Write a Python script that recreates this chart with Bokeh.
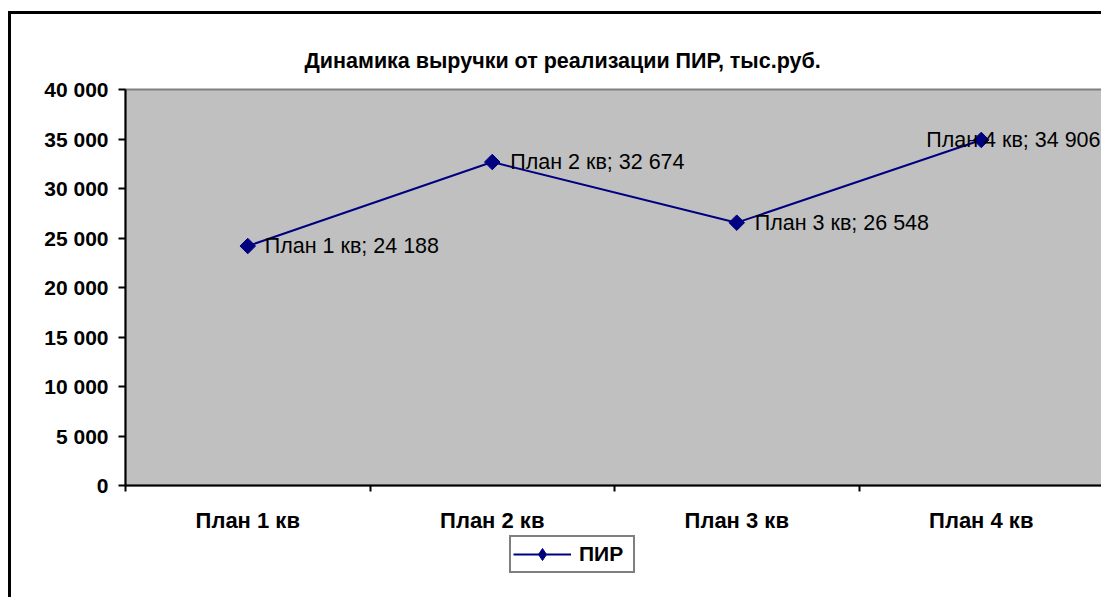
from bokeh.plotting import figure
from bokeh.models import (ColumnDataSource, Range1d, FixedTicker, CustomJSTickFormatter,
                          Legend, LegendItem, LabelSet)
from bokeh.layouts import column
from bokeh.core.properties import value
from bokeh.embed import file_html
from bokeh.resources import INLINE
import math

# ---- data ----
categories = ["План 1 кв", "План 2 кв", "План 3 кв", "План 4 кв"]
values = [24188, 32674, 26548, 34906]
value_labels = ["24 188", "32 674", "26 548", "34 906"]
y_ticks = [0, 5000, 10000, 15000, 20000, 25000, 30000, 35000, 40000]
series_name = "ПИР"
title_text = "Динамика выручки от реализации ПИР, тыс.руб."

FONT = "Liberation Sans"
NAVY = "#000080"

xs = [i + 0.5 for i in range(len(categories))]
labels = [f"{c}; {v}" for c, v in zip(categories, value_labels)]
label_dx = [17, 18, 18, -55]

src = ColumnDataSource(dict(x=xs, y=values, lab=labels, dx=label_dx))

p = figure(output_backend="svg", toolbar_location=None,
           x_range=Range1d(0, len(categories)), y_range=Range1d(0, 40000),
           frame_width=975, frame_height=393,
           min_border_left=114, min_border_top=75, min_border_right=1, min_border_bottom=53)
p.margin = (11, 0, 0, 8)
p.styles = {"border-left": "3px solid black", "border-top": "3px solid black"}

p.background_fill_color = "#C0C0C0"
p.border_fill_color = "white"
p.outline_line_color = "#808080"
p.outline_line_width = 2
p.xgrid.visible = False
p.ygrid.visible = False

p.title.text = title_text
p.title.text_font = FONT
p.title.text_font_size = "21.5px"
p.title.text_font_style = "bold"
p.title.text_color = "black"
p.title.align = "left"
p.title.offset = 179
p.title.standoff = 33

# y axis
ya = p.yaxis[0]
ya.ticker = FixedTicker(ticks=y_ticks, minor_ticks=[])
ya.formatter = CustomJSTickFormatter(code="return Math.round(tick).toString().replace(/\\B(?=(\\d{3})+(?!\\d))/g, ' ')")
ya.axis_line_color = "black"
ya.axis_line_width = 2
ya.major_tick_in = 0
ya.major_tick_out = 7
ya.major_tick_line_width = 2
ya.major_label_standoff = 10
ya.major_label_text_font = FONT
ya.major_label_text_font_size = "21px"
ya.major_label_text_font_style = "bold"
ya.major_label_text_color = "black"

# x axis
xa = p.xaxis[0]
xa.ticker = FixedTicker(ticks=xs, minor_ticks=list(range(len(categories) + 1)))
xa.formatter = CustomJSTickFormatter(args=dict(cats=categories),
                                     code="return cats[Math.floor(tick)]")
xa.axis_line_color = "black"
xa.axis_line_width = 2
xa.major_tick_in = 0
xa.major_tick_out = 0
xa.minor_tick_in = 0
xa.minor_tick_out = 6
xa.minor_tick_line_width = 2
xa.major_label_standoff = 16
xa.major_label_text_font = FONT
xa.major_label_text_font_size = "22px"
xa.major_label_text_font_style = "bold"
xa.major_label_text_color = "black"

p.line("x", "y", source=src, line_color=NAVY, line_width=2)
p.scatter("x", "y", source=src, marker="square", angle=math.pi / 4, size=11,
          fill_color=NAVY, line_color=NAVY)

lbls = LabelSet(x="x", y="y", text="lab", source=src, x_offset="dx",
                text_baseline="middle", text_font=value(FONT), text_font_size="21.5px",
                text_color="black")
p.add_layout(lbls)

# ---- legend strip below the chart ----
p2 = figure(output_backend="svg", toolbar_location=None,
            x_range=Range1d(-10, -9), y_range=Range1d(-10, -9),
            x_axis_type=None, y_axis_type=None,
            frame_width=1093, frame_height=62,
            min_border_left=0, min_border_right=0, min_border_top=0, min_border_bottom=0)
p2.margin = (0, 0, 0, 8)
p2.styles = {"border-left": "3px solid black"}
p2.background_fill_color = "white"
p2.border_fill_color = "white"
p2.outline_line_color = None
p2.xgrid.visible = False
p2.ygrid.visible = False

l2 = p2.line("x", "y", source=src, line_color=NAVY, line_width=2)
s2 = p2.scatter("x", "y", source=src, marker="diamond", size=16,
                fill_color=NAVY, line_color=NAVY)

legend = Legend(items=[LegendItem(label=series_name, renderers=[l2, s2])],
                location=(498, 24), orientation="horizontal",
                glyph_width=58, glyph_height=30, label_standoff=8, label_width=52,
                label_height=20, padding=2, margin=0, spacing=0,
                border_line_color="black", border_line_width=2,
                background_fill_color="white", background_fill_alpha=1,
                label_text_font=FONT, label_text_font_size="21px",
                label_text_font_style="bold", label_text_color="black",
                label_text_baseline="middle")
p2.add_layout(legend, "center")

layout = column(p, p2, spacing=0)

open("out.html", "w").write(file_html(layout, INLINE))
